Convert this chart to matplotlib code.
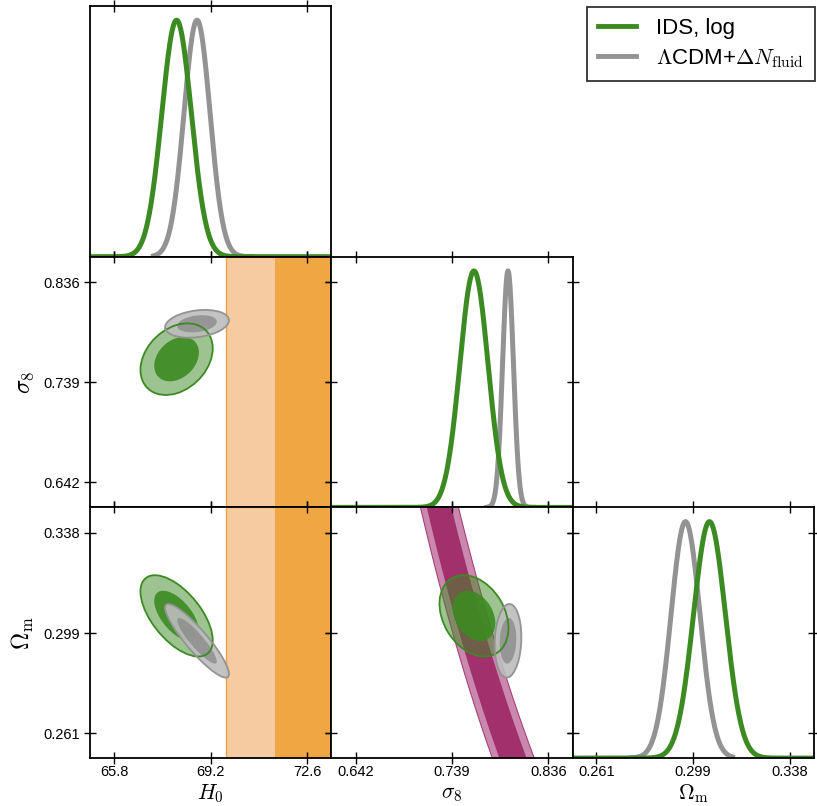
import numpy as np
import matplotlib
matplotlib.use('Agg')
import matplotlib.pyplot as plt
from matplotlib.patches import Ellipse
from matplotlib.lines import Line2D

plt.rcParams['font.family'] = ['Liberation Sans', 'DejaVu Sans']
plt.rcParams['mathtext.fontset'] = 'cm'

# parametros y limites
param_labels = [r'$H_0$', r'$\sigma_8$', r'$\Omega_{\rm m}$']
param_limits = [(64.95, 73.45), (0.6174, 0.8606), (0.2512, 0.3478)]
tick_values = [[65.8, 69.2, 72.6], [0.642, 0.739, 0.836], [0.2607, 0.2994, 0.3381]]
tick_labels = [['65.8', '69.2', '72.6'], ['0.642', '0.739', '0.836'], ['0.261', '0.299', '0.338']]

# IDS, log
ids_mean = [68.0, 0.7612, 0.3060]
ids_sigma = [0.52, 0.0142, 0.0064]
ids_corr = {(0, 1): 0.30, (0, 2): -0.60, (1, 2): -0.30}

# LCDM + Delta N_fluid
lcdm_mean = [68.72, 0.7955, 0.2964]
lcdm_sigma = [0.46, 0.0055, 0.0058]
lcdm_corr = {(0, 1): 0.25, (0, 2): -0.90, (1, 2): 0.10}
lcdm_range = [(67.19, 70.66), (0.774, 0.821), (0.2746, 0.3152)]

# banda H0 local (limites inferiores 2 sigma y 1 sigma)
h0_band = [69.74, 71.48, 76.0]
# banda sigma8 (Om/0.3)^0.3
s8_band = [0.739, 0.746, 0.772, 0.779]
s8_alpha = 0.3

verde = '#3C8A22'
gris = '#939393'

fig = plt.figure(figsize=(8.17, 8.06), dpi=100)
W, H = 817.0, 806.0
x0, cw = 90.0, 241.3
y0, rh = 6.0, 250.7

ejes = {}
for i in range(3):
    for j in range(i + 1):
        left = (x0 + j * cw) / W
        bottom = 1 - (y0 + (i + 1) * rh) / H
        ejes[(i, j)] = fig.add_axes([left, bottom, cw / W, rh / H])

YMAX = 1.06


def gauss1d(x, m, s):
    return np.exp(-0.5 * ((x - m) / s) ** 2)


def elipse(ax, mean, sig, r, i, j, k, fc, alpha, ec):
    cov = np.array([[sig[j] ** 2, r * sig[i] * sig[j]], [r * sig[i] * sig[j], sig[i] ** 2]])
    vals, vecs = np.linalg.eigh(cov)
    ang = np.degrees(np.arctan2(vecs[1, 1], vecs[0, 1]))
    e = Ellipse((mean[j], mean[i]), 2 * k * np.sqrt(vals[1]), 2 * k * np.sqrt(vals[0]),
                angle=ang, facecolor=fc, alpha=alpha, edgecolor='none', zorder=3)
    ax.add_patch(e)
    if ec is not None:
        e2 = Ellipse((mean[j], mean[i]), 2 * k * np.sqrt(vals[1]), 2 * k * np.sqrt(vals[0]),
                     angle=ang, facecolor='none', edgecolor=ec, lw=1.3, zorder=4)
        ax.add_patch(e2)


for (i, j), ax in ejes.items():
    ax.set_xlim(param_limits[j])
    ax.set_xticks(tick_values[j])
    if i == j:
        ax.set_ylim(0, YMAX)
        x = np.linspace(param_limits[j][0], param_limits[j][1], 400)
        ax.plot(x, gauss1d(x, ids_mean[j], ids_sigma[j]), color=verde, lw=3.6, zorder=3)
        xg = np.linspace(lcdm_range[j][0], lcdm_range[j][1], 300)
        ax.plot(xg, gauss1d(xg, lcdm_mean[j], lcdm_sigma[j]), color=gris, lw=3.6, zorder=2)
        if i > 0:
            lo, hi = param_limits[i]
            ax.set_yticks([(t - lo) / (hi - lo) * YMAX for t in tick_values[i]])
        else:
            ax.set_yticks([])
    else:
        ax.set_ylim(param_limits[i])
        ax.set_yticks(tick_values[i])
        r = ids_corr[(j, i)]
        elipse(ax, ids_mean, ids_sigma, r, i, j, 2.448, verde, 0.5, None)
        elipse(ax, ids_mean, ids_sigma, r, i, j, 1.515, verde, 0.9, None)
        elipse(ax, ids_mean, ids_sigma, r, i, j, 2.448, 'none', 1, verde)
        r = lcdm_corr[(j, i)]
        elipse(ax, lcdm_mean, lcdm_sigma, r, i, j, 2.448, '#BDBDBD', 0.9, None)
        elipse(ax, lcdm_mean, lcdm_sigma, r, i, j, 1.515, '#8E8E8E', 0.85, None)
        elipse(ax, lcdm_mean, lcdm_sigma, r, i, j, 2.448, 'none', 1, gris)
        if j == 0:
            ax.axvspan(h0_band[0], h0_band[2], facecolor='#F6CBA1', edgecolor='#EFA443', lw=1.0, zorder=1)
            ax.axvspan(h0_band[1], h0_band[2], facecolor='#EFA643', edgecolor='none', zorder=1)
        if (i, j) == (2, 1):
            om = np.linspace(param_limits[2][0] - 0.01, param_limits[2][1] + 0.01, 200)
            f = (om / 0.3) ** s8_alpha
            ax.fill_betweenx(om, s8_band[0] / f, s8_band[3] / f, facecolor='#CB88AE', edgecolor='#A8407A', lw=0.8, zorder=1)
            ax.fill_betweenx(om, s8_band[1] / f, s8_band[2] / f, facecolor='#A1306D', edgecolor='none', zorder=1)

    ax.tick_params(direction='inout', length=8, width=1, top=True, right=True, labelsize=10.5)
    ax.tick_params(axis='x', pad=1.3)
    for s in ax.spines.values():
        s.set_linewidth(1.3)
        s.set_zorder(6)
    if i == 2:
        ax.set_xticklabels(tick_labels[j])
        ax.set_xlabel(param_labels[j], fontsize=15.5)
        ax.xaxis.set_label_coords(0.5, -0.098)
    else:
        ax.set_xticklabels([])
    if j == 0 and i > 0:
        ax.set_yticklabels(tick_labels[i])
        ax.set_ylabel(param_labels[i], fontsize=17)
        ax.yaxis.set_label_coords(-0.225, 0.5)
    else:
        ax.set_yticklabels([])

handles = [Line2D([], [], color=verde, lw=3.5),
           Line2D([], [], color=gris, lw=3.5)]
leg = fig.legend(handles, ['IDS, log', r'$\Lambda$CDM+$\Delta N_{\rm fluid}$'],
                 loc='upper right', bbox_to_anchor=(815 / W, 1 - 7 / H), borderaxespad=0,
                 fontsize=16, frameon=True, fancybox=False, handlelength=1.7,
                 handletextpad=0.9, borderpad=0.5, labelspacing=0.35)
leg.get_frame().set_edgecolor('black')
leg.get_frame().set_linewidth(1.3)

fig.savefig('out.png', dpi=100)
